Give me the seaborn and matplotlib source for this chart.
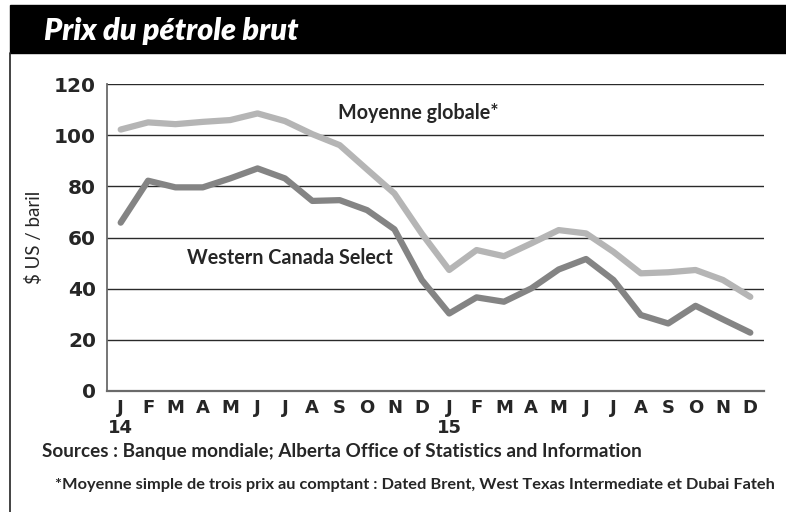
import matplotlib
matplotlib.use("Agg")
import matplotlib.pyplot as plt
import seaborn as sns
import pandas as pd
from matplotlib.patches import Rectangle
from matplotlib.lines import Line2D

# monthly crude oil prices, Jan 2014 - Dec 2015 (US$ / barrel)
months = ['J', 'F', 'M', 'A', 'M', 'J', 'J', 'A', 'S', 'O', 'N', 'D'] * 2
years = ['14', '15']
moyenne_globale = [102.2, 105.0, 104.3, 105.2, 105.9, 108.5, 105.5, 100.4, 96.1, 86.6, 77.2, 61.5,
                   47.3, 55.1, 52.7, 57.7, 62.9, 61.6, 54.4, 46.0, 46.4, 47.3, 43.4, 36.8]
western_canada = [65.8, 82.2, 79.6, 79.6, 83.1, 87.0, 83.1, 74.3, 74.6, 70.7, 63.2, 43.4,
                  30.3, 36.6, 34.9, 40.1, 47.5, 51.6, 43.4, 29.7, 26.4, 33.3, 28.0, 22.8]

df = pd.DataFrame({
    'idx': list(range(24)) * 2,
    'prix': moyenne_globale + western_canada,
    'serie': ['Moyenne globale*'] * 24 + ['Western Canada Select'] * 24,
})

sns.set_style('white')
plt.rcParams['font.family'] = ['Lato', 'DejaVu Sans']

W, H = 786, 512
fig = plt.figure(figsize=(W / 100, H / 100), dpi=100)
ax = fig.add_axes([107 / W, 1 - 391 / H, (764 - 107) / W, (391 - 84) / H])

# frame: title bar + left border
fig.patches.append(Rectangle((10 / W, 1 - 53 / H), 1 - 10 / W, 48 / H,
                             transform=fig.transFigure, color='black', zorder=0))
fig.lines.append(Line2D([10 / W, 10 / W], [0, 1 - 53 / H], transform=fig.transFigure,
                        color='#222222', lw=1.2))
fig.text(44 / W, 1 - 31 / H, 'Prix du pétrole brut', color='white', fontsize=22,
         fontweight='heavy', fontstyle='italic', va='center', ha='left')

for y in range(20, 121, 20):
    ax.axhline(y, color='#2a2a2a', lw=1.0, zorder=1)

sns.lineplot(data=df, x='idx', y='prix', hue='serie',
             palette={'Moyenne globale*': '#b5b5b5', 'Western Canada Select': '#848484'},
             lw=4.5, legend=False, ax=ax, zorder=3)

ax.set_xlim(-0.5, 23.5)
ax.set_ylim(0, 120)
ax.set_yticks(range(0, 121, 20))
ax.set_yticklabels([str(v) for v in range(0, 121, 20)], fontsize=14.5, fontweight='bold',
                   family='DejaVu Sans')
ax.tick_params(axis='y', length=0, pad=8)

ax.set_xticks(range(24))
ax.set_xticklabels(months, fontsize=13, fontweight='bold', family='DejaVu Sans')
ax.tick_params(axis='x', which='major', length=0, pad=6)
ax.set_xticks([i - 0.5 for i in range(1, 25)], minor=True)
ax.tick_params(axis='x', which='minor', direction='in', length=5.5, width=1, color='#333333')

ax.text(0, -0.092, years[0], transform=ax.get_xaxis_transform(), ha='center', va='top',
        fontsize=13, fontweight='bold', family='DejaVu Sans')
ax.text(12, -0.092, years[1], transform=ax.get_xaxis_transform(), ha='center', va='top',
        fontsize=13, fontweight='bold', family='DejaVu Sans')

for side in ['top', 'right']:
    ax.spines[side].set_visible(False)
ax.spines['left'].set_color('#6a6a6a')
ax.spines['left'].set_linewidth(1.3)
ax.spines['bottom'].set_color('#6a6a6a')
ax.spines['bottom'].set_linewidth(1.6)

ax.set_xlabel('')
ax.set_ylabel('$ US / baril', fontsize=13.5, labelpad=8)

ax.text(10.86, 108.5, 'Moyenne globale*', fontsize=14.2, fontweight='bold', ha='center', va='center')
ax.text(6.17, 52, 'Western Canada Select', fontsize=14.2, fontweight='bold', ha='center', va='center')

fig.text(42 / W, 1 - 452 / H, 'Sources : Banque mondiale; Alberta Office of Statistics and Information',
         fontsize=13.6, fontweight='bold', ha='left', va='center')
fig.text(55 / W, 1 - 485 / H,
         '*Moyenne simple de trois prix au comptant : Dated Brent, West Texas Intermediate et Dubai Fateh',
         fontsize=11.8, fontweight='bold', ha='left', va='center')

fig.savefig('out.png', dpi=100)
